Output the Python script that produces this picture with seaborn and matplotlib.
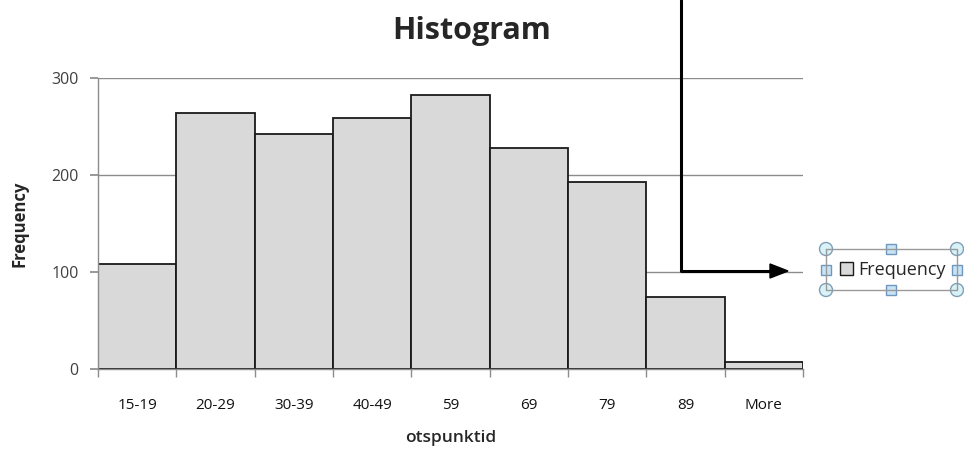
import matplotlib
matplotlib.use("Agg")
import matplotlib.pyplot as plt
import matplotlib.patches as mpatches
import matplotlib.lines as mlines
import pandas as pd
import seaborn as sns

bins = ["15-19", "20-29", "30-39", "40-49", "59", "69", "79", "89", "More"]
frequency = [108, 264, 242, 259, 282, 228, 193, 74, 7]
y_ticks = [0, 100, 200, 300]

df = pd.DataFrame({"bin": bins, "Frequency": frequency})

sns.set_theme(style="white")
plt.rcParams["font.family"] = ["Open Sans", "DejaVu Sans"]

fig = plt.figure(figsize=(9.64, 4.61), dpi=100)
ax = fig.add_axes([98 / 964, 1 - 369 / 461, (803 - 98) / 964, (369 - 78) / 461])

sns.barplot(data=df, x="bin", y="Frequency", color="#d9d9d9", width=1.0,
            edgecolor="#1a1a1a", linewidth=1.3, saturation=1, ax=ax)

ax.set_xlim(-0.5, len(bins) - 0.5)
ax.set_ylim(0, 300)
ax.set_yticks(y_ticks)
ax.yaxis.grid(True, color="#8c8c8c", linewidth=1)
ax.set_axisbelow(True)
for s in ["top", "right"]:
    ax.spines[s].set_visible(False)
for s in ["left", "bottom"]:
    ax.spines[s].set_color("#8c8c8c")
    ax.spines[s].set_linewidth(1)

# ticks at bin boundaries on x
ax.set_xticks([i for i in range(len(bins))])
ax.set_xticklabels(bins, fontsize=11, color="#111111")
ax.set_xticks([i - 0.5 for i in range(len(bins) + 1)], minor=True)
ax.tick_params(axis="x", which="major", length=0, pad=21)
ax.tick_params(axis="x", which="minor", length=6, color="#8c8c8c", direction="out", bottom=True)
ax.tick_params(axis="y", length=6, color="#8c8c8c", direction="out", left=True, pad=8,
               labelsize=11.5, labelcolor="#404040")

ax.set_xlabel("otspunktid", fontsize=12.5, fontweight="semibold", labelpad=12)
ax.set_ylabel("Frequency", fontsize=12, fontweight="bold", labelpad=16)
fig.text(472 / 964, 1 - 31 / 461, "Histogram", ha="center", va="center",
         fontsize=22, fontweight="bold")

# legend with selection handles
leg_handle = mpatches.Patch(facecolor="#d9d9d9", edgecolor="#1a1a1a", linewidth=1)
fig.legend([leg_handle], ["Frequency"], loc="center", bbox_to_anchor=(893 / 964, 1 - 270 / 461),
           frameon=False, fontsize=13, handlelength=0.75, handleheight=0.75, handletextpad=0.3,
           borderpad=0.2)
x0, x1, xm = 826 / 964, 957 / 964, 891 / 964
y0, y1, ym = 1 - 249 / 461, 1 - 290 / 461, 1 - 270 / 461
fig.add_artist(mlines.Line2D([x0, x1, x1, x0, x0], [y0, y0, y1, y1, y0],
                             transform=fig.transFigure, color="#9a9a9a", linewidth=1))
for (hx, hy) in [(x0, y0), (x1, y0), (x0, y1), (x1, y1)]:
    fig.add_artist(mpatches.Ellipse((hx, hy), 13 / 964, 13 / 461, transform=fig.transFigure,
                                    facecolor="#d8f2f8", edgecolor="#7f9fb5", linewidth=1))
for (hx, hy) in [(xm, y0), (xm, y1), (x0, ym), (x1, ym)]:
    fig.add_artist(mpatches.Rectangle((hx - 5 / 964, hy - 5 / 461), 10 / 964, 10 / 461,
                                      transform=fig.transFigure, facecolor="#c8e4f4",
                                      edgecolor="#6f97c0", linewidth=1))

# arrow drawn over the chart
fig.add_artist(mlines.Line2D([681 / 964, 681 / 964, 775 / 964], [1.0, 1 - 271 / 461, 1 - 271 / 461],
                             transform=fig.transFigure, color="black", linewidth=2.2))
fig.add_artist(mpatches.FancyArrow(770 / 964, 1 - 271 / 461, 18 / 964, 0, width=0.0,
                                   head_width=14 / 461, head_length=18 / 964,
                                   length_includes_head=True, transform=fig.transFigure,
                                   color="black"))

fig.savefig("out.png", dpi=100)
